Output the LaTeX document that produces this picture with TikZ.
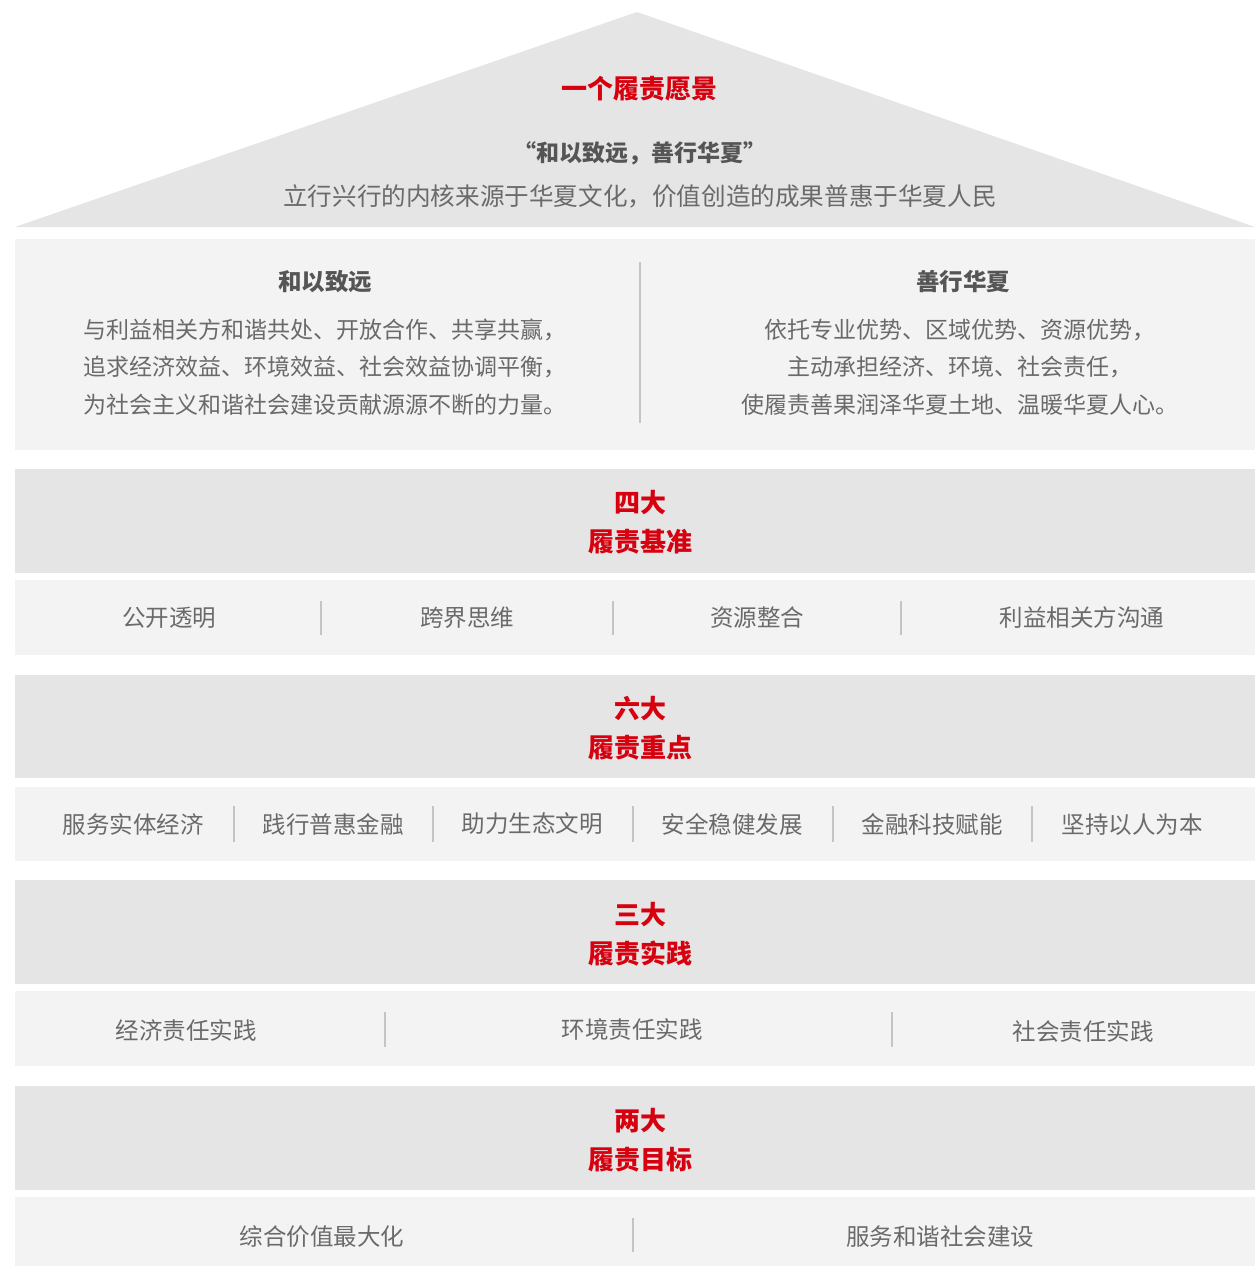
\documentclass[tikz,border=0pt]{standalone}
\usepackage{fontspec}
\setmainfont{Noto Sans CJK SC}
\definecolor{hxred}{HTML}{D7000F}
\definecolor{hxband}{HTML}{E5E5E5}
\definecolor{hxrow}{HTML}{F3F3F3}
\definecolor{hxtext}{HTML}{6A6A6A}
\definecolor{hxhead}{HTML}{555555}
\definecolor{hxline}{HTML}{C4C4C4}
\newcommand\hxbig{\fontsize{26}{39}\selectfont}
\newcommand\hxmid{\fontsize{23.5}{28}\selectfont}
\newcommand\hxsmall{\fontsize{23}{37.5}\selectfont}
\tikzset{
  band/.style={fill=hxband, draw=none},
  rowbox/.style={fill=hxrow, draw=none},
  sep/.style={draw=hxline, line width=1.2pt},
  redtitle/.style={font=\hxbig\bfseries, text=hxred, align=center},
  rowtext/.style={font=\hxmid, text=hxtext},
}
\begin{document}
\begin{tikzpicture}[x=1pt, y=-1pt]
    \useasboundingbox (0, 0) rectangle (1255, 1266);
    % roof
    \fill[hxband] (15, 227) -- (637, 12) -- (1255, 227) -- cycle;
    \node[redtitle] (vision) at (639, 89) {一个履责愿景};
    \node[font=\fontsize{23}{28}\selectfont\bfseries, text=hxhead] (motto) at (640, 153) {“和以致远，善行华夏”};
    \node[font=\fontsize{24.6}{30}\selectfont, text=hxtext] (core) at (640, 196) {立行兴行的内核来源于华夏文化，价值创造的成果普惠于华夏人民};

    % two ideas
    \fill[rowbox] (15, 239) rectangle (1255, 450);
    \draw[sep] (640, 262) -- (640, 423);
    \node[font=\hxmid\bfseries, text=hxhead] (far) at (325, 282) {和以致远};
    \node[font=\hxsmall, text=hxtext, align=center] (fartext) at (325, 367)
      {与利益相关方和谐共处、开放合作、共享共赢，\\追求经济效益、环境效益、社会效益协调平衡，\\为社会主义和谐社会建设贡献源源不断的力量。};
    \node[font=\hxmid\bfseries, text=hxhead] (good) at (963, 282) {善行华夏};
    \node[font=\hxsmall, text=hxtext, align=center] (goodtext) at (960, 367)
      {依托专业优势、区域优势、资源优势，\\主动承担经济、环境、社会责任，\\使履责善果润泽华夏土地、温暖华夏人心。};

    % four standards
    \fill[band] (15, 469) rectangle (1255, 573);
    \node[redtitle] (four) at (640, 522) {四大\\履责基准};
    \fill[rowbox] (15, 580) rectangle (1255, 655);
    \foreach \x in {321, 613, 901} \draw[sep] (\x, 601) -- (\x, 635);
    \node[rowtext] (s1) at (169, 618) {公开透明};
    \node[rowtext] (s2) at (467, 618) {跨界思维};
    \node[rowtext] (s3) at (757, 618) {资源整合};
    \node[rowtext] (s4) at (1082, 618) {利益相关方沟通};

    % six focuses
    \fill[band] (15, 675) rectangle (1255, 778);
    \node[redtitle] (six) at (640, 728) {六大\\履责重点};
    \fill[rowbox] (15, 787) rectangle (1255, 861);
    \foreach \x in {234, 433, 633, 833, 1032} \draw[sep] (\x, 806) -- (\x, 842);
    \node[rowtext] (f1) at (133, 824) {服务实体经济};
    \node[rowtext] (f2) at (333, 824) {践行普惠金融};
    \node[rowtext] (f3) at (532, 824) {助力生态文明};
    \node[rowtext] (f4) at (732, 824) {安全稳健发展};
    \node[rowtext] (f5) at (932, 824) {金融科技赋能};
    \node[rowtext] (f6) at (1132, 825) {坚持以人为本};

    % three practices
    \fill[band] (15, 880) rectangle (1255, 984);
    \node[redtitle] (three) at (640, 934) {三大\\履责实践};
    \fill[rowbox] (15, 991) rectangle (1255, 1066);
    \foreach \x in {385, 892} \draw[sep] (\x, 1012) -- (\x, 1047);
    \node[rowtext] (p1) at (186, 1030) {经济责任实践};
    \node[rowtext] (p2) at (632, 1030) {环境责任实践};
    \node[rowtext] (p3) at (1083, 1031) {社会责任实践};

    % two goals
    \fill[band] (15, 1086) rectangle (1255, 1190);
    \node[redtitle] (two) at (640, 1140) {两大\\履责目标};
    \fill[rowbox] (15, 1197) rectangle (1255, 1266);
    \draw[sep] (633, 1218) -- (633, 1252);
    \node[rowtext] (g1) at (322, 1237) {综合价值最大化};
    \node[rowtext] (g2) at (940, 1237) {服务和谐社会建设};
  \end{tikzpicture}
\end{document}
